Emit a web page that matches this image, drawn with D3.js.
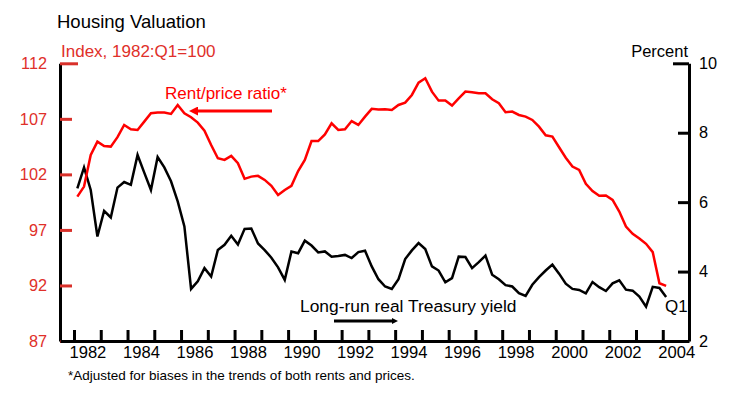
<!DOCTYPE html>
<html>
<head>
<meta charset="utf-8">
<script src="https://cdn.jsdelivr.net/npm/d3@7"></script>
<style>
  body { margin: 0; background: #fff; }
  svg { font-family: 'Liberation Sans', Arial, Helvetica, sans-serif; }
</style>
</head>
<body>
<div id="chart"></div>
<script>
// quarterly, 1982:Q1 through 2004:Q1
let startYear = 1982

let rentPrice = [
  100.0, 100.9, 103.75, 104.95, 104.56, 104.5, 105.35, 106.45,
  106.06, 106.0, 106.75, 107.5, 107.56, 107.56, 107.44, 108.25,
  107.5, 107.14, 106.66, 105.94, 104.65, 103.45, 103.3, 103.66,
  103.0, 101.6, 101.8, 101.87, 101.5, 100.97, 100.15, 100.6,
  100.97, 102.3, 103.3, 105.0, 105.0, 105.6, 106.6, 106.0,
  106.06, 106.8, 106.45, 107.2, 107.9, 107.85, 107.86, 107.8,
  108.25, 108.46, 109.15, 110.26, 110.65, 109.45, 108.64, 108.64,
  108.19, 108.85, 109.45, 109.4, 109.3, 109.3, 108.76, 108.4,
  107.6, 107.65, 107.35, 107.2, 106.9, 106.3, 105.52, 105.4,
  104.44, 103.5, 102.7, 102.4, 101.15, 100.5, 100.07, 100.1,
  99.7, 98.65, 97.3, 96.65, 96.23, 95.75, 95.0, 92.2,
  91.97
]

let treasuryYield = [
  6.4, 7.0, 6.35, 5.01, 5.75, 5.56, 6.42, 6.58,
  6.5, 7.36, 6.85, 6.35, 7.3, 7.0, 6.6, 6.02,
  5.3, 3.5, 3.72, 4.1, 3.86, 4.62, 4.77, 5.03,
  4.78, 5.23, 5.24, 4.81, 4.62, 4.4, 4.12, 3.76,
  4.58, 4.53, 4.89, 4.75, 4.55, 4.58, 4.43, 4.45,
  4.48, 4.39, 4.56, 4.6, 4.15, 3.78, 3.57, 3.5,
  3.78, 4.36, 4.61, 4.82, 4.65, 4.15, 4.03, 3.69,
  3.81, 4.43, 4.42, 4.1, 4.27, 4.46, 3.91, 3.78,
  3.61, 3.57, 3.38, 3.3, 3.62, 3.84, 4.03, 4.2,
  3.94, 3.65, 3.5, 3.47, 3.37, 3.7, 3.55, 3.44,
  3.66, 3.75, 3.48, 3.45, 3.28, 2.99, 3.56, 3.53,
  3.27
]

let leftTicks = [87, 92, 97, 102, 107, 112]
let rightTicks = [2, 4, 6, 8, 10]
let yearTicks = d3.range(1982, 2005)
let yearLabels = d3.range(1982, 2005, 2)

let width = 755
let height = 397

let svg = d3.select('#chart')
  .append('svg')
  .attr('width', width)
  .attr('height', height)

let x = d3.scaleLinear().domain([1981.477, 2004.98]).range([60, 689])
let yLeft = d3.scaleLinear().domain([87, 112]).range([341, 63.3])
let yRight = d3.scaleLinear().domain([2, 10]).range([341, 63.3])

// position each quarter at its middle
let quarterX = i => startYear + Math.floor(i / 4) + ((i % 4) + 0.5) / 4

let red = '#ff0000'
let axisRed = '#d9302a'

// left axis
let leftAxis = svg.append('g')
  .attr('transform', 'translate(60,0)')
  .call(d3.axisLeft(yLeft).tickValues(leftTicks).tickSizeInner(-12).tickSizeOuter(0).tickPadding(13))
leftAxis.select('.domain').attr('stroke', '#000').attr('stroke-width', 3)
leftAxis.selectAll('.tick line').attr('stroke', axisRed).attr('stroke-width', 3)
  .attr('x2', d => d === 112 ? 18 : 12)
leftAxis.selectAll('.tick text').attr('fill', '#e0302a').attr('font-size', 16.3)

// right axis
let rightAxis = svg.append('g')
  .attr('transform', 'translate(689,0)')
  .call(d3.axisRight(yRight).tickValues(rightTicks).tickSizeInner(-11).tickSizeOuter(0).tickPadding(10))
rightAxis.select('.domain').attr('stroke', '#000').attr('stroke-width', 3)
rightAxis.selectAll('.tick line').attr('stroke', '#000').attr('stroke-width', 3)
  .attr('x2', d => d === 10 ? -16 : -11)
rightAxis.selectAll('.tick text').attr('fill', '#000').attr('font-size', 16.3)

// bottom axis, ticks at year starts
let bottomAxis = svg.append('g')
  .attr('transform', 'translate(0,341)')
  .call(d3.axisBottom(x).tickValues(yearTicks).tickSizeInner(-11).tickSizeOuter(0).tickFormat(''))
bottomAxis.select('.domain').attr('stroke', '#000').attr('stroke-width', 3)
bottomAxis.selectAll('.tick line').attr('stroke', '#000').attr('stroke-width', 3)

// year labels centred in the year
let labelAxis = svg.append('g')
  .attr('transform', 'translate(0,341)')
  .call(d3.axisBottom(x).tickValues(yearLabels.map(d => d + 0.5)).tickSize(0).tickPadding(5).tickFormat(d => Math.floor(d)))
labelAxis.select('.domain').remove()
labelAxis.selectAll('.tick text').attr('fill', '#000').attr('font-size', 16.6)

// lines
let rentLine = d3.line()
  .x((d, i) => x(quarterX(i)))
  .y(d => yLeft(d))

let yieldLine = d3.line()
  .x((d, i) => x(quarterX(i)))
  .y(d => yRight(d))

svg.append('path')
  .datum(treasuryYield)
  .attr('d', yieldLine)
  .attr('fill', 'none')
  .attr('stroke', '#000')
  .attr('stroke-width', 2.5)

svg.append('path')
  .datum(rentPrice)
  .attr('d', rentLine)
  .attr('fill', 'none')
  .attr('stroke', red)
  .attr('stroke-width', 2.5)

// titles
svg.append('text')
  .attr('x', 57)
  .attr('y', 28)
  .attr('font-size', 18.5)
  .text('Housing Valuation')

svg.append('text')
  .attr('x', 61)
  .attr('y', 57)
  .attr('font-size', 17)
  .attr('fill', '#e0302a')
  .text('Index, 1982:Q1=100')

svg.append('text')
  .attr('x', 688)
  .attr('y', 57)
  .attr('font-size', 16.5)
  .attr('text-anchor', 'end')
  .text('Percent')

// annotations
let defs = svg.append('defs')
defs.append('marker')
  .attr('id', 'head-red')
  .attr('viewBox', '0 0 10 10')
  .attr('refX', 0)
  .attr('refY', 5)
  .attr('markerUnits', 'userSpaceOnUse')
  .attr('markerWidth', 10)
  .attr('markerHeight', 9)
  .attr('orient', 'auto')
  .append('path')
  .attr('d', 'M0,0L10,5L0,10Z')
  .attr('fill', red)

defs.append('marker')
  .attr('id', 'head-black')
  .attr('viewBox', '0 0 10 10')
  .attr('refX', 0)
  .attr('refY', 5)
  .attr('markerUnits', 'userSpaceOnUse')
  .attr('markerWidth', 8)
  .attr('markerHeight', 6)
  .attr('orient', 'auto')
  .append('path')
  .attr('d', 'M0,0L10,5L0,10Z')
  .attr('fill', '#000')

svg.append('text')
  .attr('x', 165)
  .attr('y', 99)
  .attr('font-size', 17)
  .attr('fill', red)
  .text('Rent/price ratio*')

svg.append('line')
  .attr('x1', 272)
  .attr('y1', 111)
  .attr('x2', 198)
  .attr('y2', 111)
  .attr('stroke', red)
  .attr('stroke-width', 3)
  .attr('marker-end', 'url(#head-red)')

svg.append('text')
  .attr('x', 300)
  .attr('y', 312)
  .attr('font-size', 17.4)
  .text('Long-run real Treasury yield')

svg.append('line')
  .attr('x1', 334)
  .attr('y1', 321)
  .attr('x2', 392)
  .attr('y2', 321)
  .attr('stroke', '#000')
  .attr('stroke-width', 3)
  .attr('marker-end', 'url(#head-black)')

svg.append('text')
  .attr('x', 665)
  .attr('y', 312)
  .attr('font-size', 17)
  .text('Q1')

svg.append('text')
  .attr('x', 68)
  .attr('y', 380)
  .attr('font-size', 13.5)
  .text('*Adjusted for biases in the trends of both rents and prices.')
</script>
</body>
</html>
